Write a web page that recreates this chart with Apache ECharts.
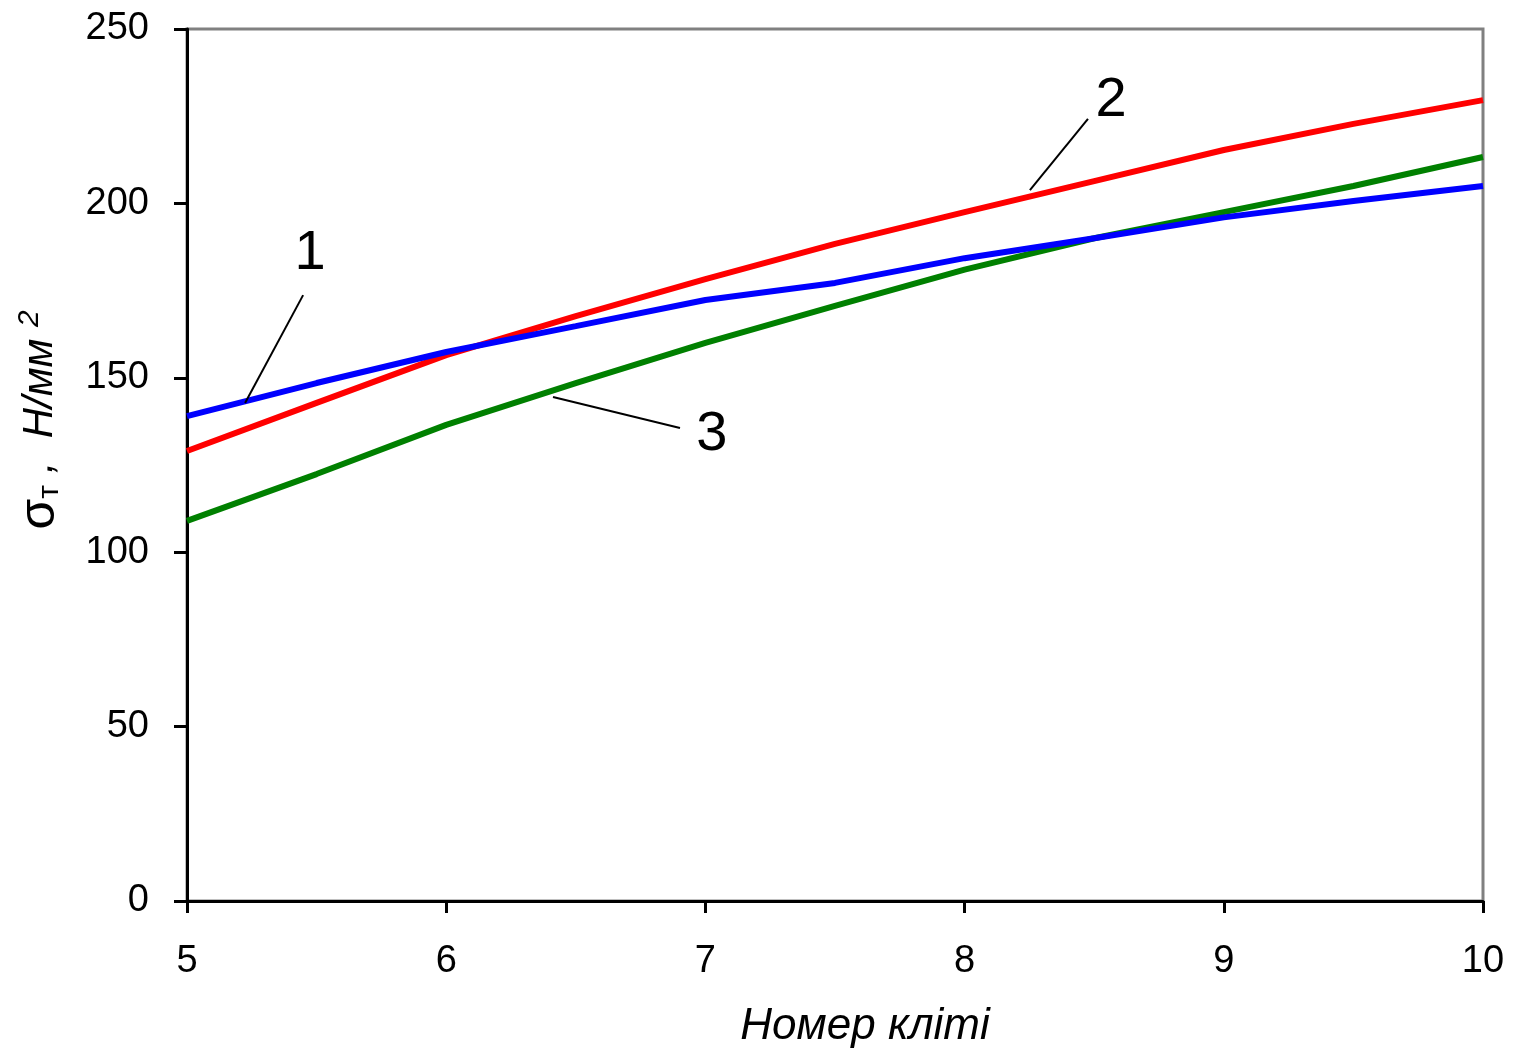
<!DOCTYPE html>
<html>
<head>
<meta charset="utf-8">
<script src="https://cdn.jsdelivr.net/npm/echarts@6/dist/echarts.min.js"></script>
<style>
html,body{margin:0;padding:0;background:#fff;}
#c{width:1513px;height:1048px;}
</style>
</head>
<body>
<div id="c"></div>
<script>
var xValues = [5, 5.5, 6, 6.5, 7, 7.5, 8, 8.5, 9, 9.5, 10];
var series1 = [139, 148.5, 157.4, 164.8, 172.3, 177.2, 184.3, 190, 196, 200.7, 205];
var series2 = [129, 142.8, 156.5, 167.7, 178.3, 188.4, 197.5, 206.4, 215.3, 222.8, 229.6];
var series3 = [109, 122.4, 136.5, 148.5, 160, 170.6, 181, 190, 197.5, 205, 213.3];
var seriesNames = ['1', '2', '3'];
var yTicks = [0, 50, 100, 150, 200, 250];
var xTicks = [5, 6, 7, 8, 9, 10];
// annotation leaders: [x1,y1,x2,y2] in data units; labels: [x,y,text]
var leaders = [
  [5.224, 142.8, 5.448, 173.7],
  [8.252, 203.8, 8.476, 224.2],
  [6.412, 144.5, 6.902, 135.6]
];
var labels = [
  [5.475, 185.5, '1'],
  [8.565, 229.6, '2'],
  [7.025, 133.6, '3']
];

function pairs(vals){ return xValues.map(function(x,i){return [x, vals[i]];}); }

var chart = echarts.init(document.getElementById('c'));
var font = 'Liberation Sans';
chart.setOption({
  animation: false,
  backgroundColor: '#fff',
  grid: {left: 187, right: 30, top: 29, bottom: 147, show: true, borderColor: '#808080', borderWidth: 3, backgroundColor: 'transparent', outerBoundsMode: 'none', containLabel: false},
  xAxis: {
    type: 'value', min: 5, max: 10, interval: 1,
    axisLine: {show: true, onZero: false, lineStyle: {color: '#000', width: 3}},
    axisTick: {show: true, length: 12, lineStyle: {color: '#000', width: 3}},
    axisLabel: {color: '#000', fontFamily: font, fontSize: 38, margin: 42},
    splitLine: {show: false},
    name: 'Номер кліті', nameLocation: 'middle', nameGap: 104,
    nameTextStyle: {color: '#000', fontFamily: font, fontSize: 44, fontStyle: 'italic', padding: [0, 0, 0, 60]}
  },
  yAxis: {
    type: 'value', min: 0, max: 250, interval: 50,
    axisLine: {show: true, onZero: false, lineStyle: {color: '#000', width: 3}},
    axisTick: {show: true, length: 13, lineStyle: {color: '#000', width: 3}},
    axisLabel: {color: '#000', fontFamily: font, fontSize: 38, margin: 38},
    splitLine: {show: false},
    name: '{a|σ}{s|т}{b| ,  Н/мм }{p|2}', nameLocation: 'middle', nameGap: 122, nameRotate: 90,
    nameTextStyle: {
      color: '#000', fontFamily: font, fontSize: 40, padding: [0, 0, 0, 90],
      rich: {
        a: {fontFamily: font, fontSize: 50, color: '#000'},
        s: {fontFamily: font, fontSize: 30, color: '#000', verticalAlign: 'bottom', padding: [16,0,0,0]},
        b: {fontFamily: font, fontSize: 42, fontStyle: 'italic', color: '#000'},
        p: {fontFamily: font, fontSize: 30, fontStyle: 'italic', color: '#000', verticalAlign: 'top', padding: [0,0,14,0]}
      }
    }
  },
  series: [
    {name: seriesNames[0], type: 'line', data: pairs(series1), showSymbol: false, lineStyle: {color: '#0000FF', width: 6}, z: 3},
    {name: seriesNames[1], type: 'line', data: pairs(series2), showSymbol: false, lineStyle: {color: '#FF0000', width: 6}, z: 2},
    {name: seriesNames[2], type: 'line', data: pairs(series3), showSymbol: false, lineStyle: {color: '#008000', width: 6}, z: 1},
    {
      type: 'lines', coordinateSystem: 'cartesian2d', polyline: false, z: 5,
      lineStyle: {color: '#000', width: 2, opacity: 1},
      data: leaders.map(function(l){ return {coords: [[l[0], l[1]], [l[2], l[3]]]}; })
    },
    {
      type: 'line', data: [], z: 6, silent: true,
      markPoint: {
        symbol: 'circle', symbolSize: 0, silent: true,
        itemStyle: {color: '#000'},
        label: {show: true, position: 'inside', color: '#000000', fontFamily: font, fontSize: 56, textBorderWidth: 0, textShadowBlur: 0},
        data: labels.map(function(l){ return {coord: [l[0], l[1]], value: l[2], label: {formatter: l[2]}}; })
      }
    }
  ]
});
</script>
</body>
</html>
